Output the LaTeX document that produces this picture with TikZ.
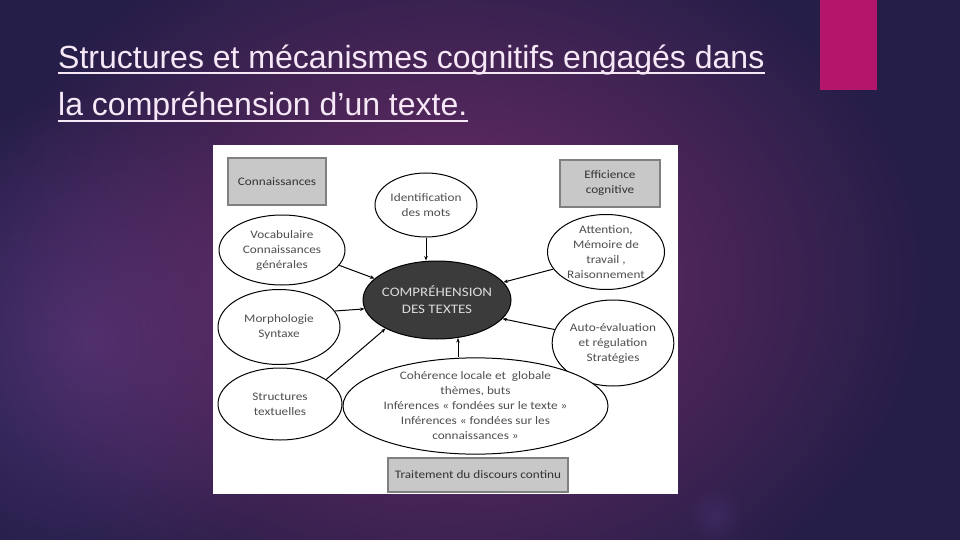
\documentclass[tikz,border=0pt]{standalone}
\usepackage{fontspec}
\setmainfont{Liberation Sans}
\newfontfamily\carl[FakeStretch=1.15]{Carlito}
\usetikzlibrary{shapes.geometric,arrows.meta,calc,fadings}
\tikzfading[name=glowfade, inner color=transparent!0, outer color=transparent!100]
\definecolor{bgout}{HTML}{251E48}
\definecolor{bgin}{HTML}{722D69}
\definecolor{bgviolet}{HTML}{47316F}
\definecolor{titlec}{HTML}{F6E8F6}
\definecolor{barc}{HTML}{B3166B}
\definecolor{boxfill}{HTML}{C8C8C8}
\definecolor{boxline}{HTML}{808080}
\definecolor{ellt}{HTML}{4F4F4F}
\definecolor{darkell}{HTML}{3B3B3B}
\tikzset{
  ell/.style={ellipse, draw=black, line width=1pt, fill=white, inner sep=0pt, align=center,
    font=\carl\fontsize{11.5}{15}\selectfont, text=ellt},
  gbox/.style={rectangle, draw=boxline, line width=1.5pt, fill=boxfill, inner sep=0pt, align=center,
    font=\carl\fontsize{11.5}{15}\selectfont, text=black!80},
  arr/.style={line width=1pt, -{Stealth[length=4.5pt,width=3.5pt]}},
  ttl/.style={anchor=base west, inner sep=0pt, text=titlec, font=\fontsize{32}{32}\selectfont}
}
\begin{document}
\begin{tikzpicture}[x=1pt,y=-1pt]
\useasboundingbox (0,0) rectangle (960,540);
\begin{scope}
\clip (0,0) rectangle (960,540);
\fill[bgout] (0,0) rectangle (960,540);
\fill[bgviolet, path fading=glowfade] (90,340) ellipse [x radius=240, y radius=250];
\fill[bgin, path fading=glowfade] (450,280) ellipse [x radius=480, y radius=380];
\fill[bgviolet, opacity=0.5, path fading=glowfade] (715,515) ellipse [x radius=30, y radius=30];
\end{scope}
% magenta bar
\fill[barc] (820,0) rectangle (877,90);
% title
\node[ttl] (t1) at (58,69) {Structures et mécanismes cognitifs engagés dans};
\node[ttl] (t2) at (58,116) {la compréhension d’un texte.};
\draw[titlec, line width=2pt] ($(t1.base west)+(0,4)$) -- ($(t1.base east)+(0,4)$);
\draw[titlec, line width=2pt] ($(t2.base west)+(0,5)$) -- ($(t2.base east)+(0,5)$);
% panel
\fill[white] (213,145) rectangle (678,494);
% boxes
\node[gbox, minimum width=98, minimum height=47] (conn) at (277,181.5) {Connaissances};
\node[gbox, minimum width=100, minimum height=47] (eff) at (610,183.5) {Efficience\\cognitive};
\node[gbox, minimum width=180, minimum height=34] (trait) at (478,475) {Traitement du discours continu};
% ellipses
\node[ell, minimum width=102, minimum height=64] (ident) at (426,205) {Identification\\des mots};
\node[ell, fill=darkell, draw=black, minimum width=148, minimum height=78] (comp) at (437,300) {};
\node[align=center, inner sep=0pt, text=white!86!black, font=\carl\fontsize{13}{17}\selectfont] (comptxt) at (comp.center) {COMPRÉHENSION\\DES TEXTES};
\node[ell, minimum width=126, minimum height=70] (voc) at (282,250) {Vocabulaire\\Connaissances\\générales};
\node[ell, minimum width=122, minimum height=75] (morph) at (279,327) {Morphologie\\Syntaxe};
\node[ell, minimum width=124, minimum height=72] (struct) at (280,404) {Structures\\textuelles};
\node[ell, minimum width=117, minimum height=75] (att) at (606,252) {Attention,\\Mémoire de\\travail ,\\Raisonnement};
\node[ell, minimum width=113, minimum height=86] (auto) at (613,343) {Auto-évaluation\\et régulation\\Stratégies};
\node[ell, minimum width=265, minimum height=88] (coh) at (475.5,406)
  {Cohérence locale et\ \ globale\\thèmes, buts\\Inférences « fondées sur le texte »\\Inférences « fondées sur les\\connaissances »};
% connectors
\coordinate (cx) at (458,0);
\coordinate (ix) at (426,0);
\draw[arr] (ident.south -| ix) -- (comp.north -| ix);
\draw[arr] (coh.north -| cx) -- ($(comp.south -| cx)+(0,-1.5)$);
\draw[arr] (voc.-15) -- (comp.161);
\draw[arr] (morph.16) -- (comp.-173);
\draw[arr] (struct.28) -- (comp.-151);
\draw[arr] (att.-162) -- (comp.15);
\draw[arr] (auto.167) -- (comp.-16);
\end{tikzpicture}
\end{document}
